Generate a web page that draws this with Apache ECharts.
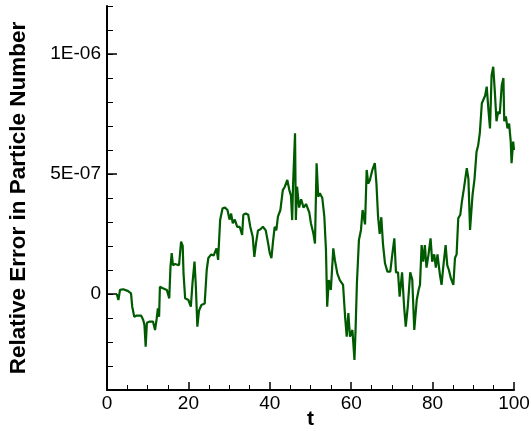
<!DOCTYPE html>
<html>
<head>
<meta charset="utf-8">
<script src="https://cdn.jsdelivr.net/npm/echarts@6/dist/echarts.min.js"></script>
<style>
html,body{margin:0;padding:0;background:#fff;}
#c{width:531px;height:431px;}
</style>
</head>
<body>
<div id="c"></div>
<script>
// time values (t)
var tValues = [
  2.4, 2.8, 3.2, 4.0, 5.2, 5.9, 6.2, 6.7, 7.3, 8.4,
  8.9, 9.2, 9.5, 9.8, 10.5, 11.3, 11.8, 12.2, 12.5, 12.8,
  13.0, 13.6, 14.7, 15.1, 15.3, 15.6, 15.9, 16.2, 16.7, 17.7,
  18.2, 18.6, 18.8, 19.2, 20.0, 20.6, 21.0, 21.5, 21.8, 22.2,
  22.6, 23.2, 24.0, 24.5, 24.9, 25.6, 26.2, 26.9, 27.3, 27.8,
  28.4, 29.0, 29.6, 30.1, 30.5, 30.9, 31.4, 32.0, 32.6, 33.2,
  33.5, 34.1, 34.7, 35.2, 35.8, 36.2, 36.6, 37.1, 37.7, 38.3,
  39.0, 39.5, 40.0, 40.4, 40.8, 41.2, 41.6, 42.0, 42.6, 43.2,
  43.7, 44.3, 44.8, 45.2, 45.5, 45.7, 46.2, 46.4, 46.7, 47.2,
  47.7, 48.3, 48.9, 49.3, 49.7, 50.1, 50.7, 51.1, 51.5, 51.9,
  52.3, 52.9, 53.4, 53.8, 54.1, 54.5, 55.0, 55.6, 56.0, 56.6,
  57.2, 58.0, 58.5, 58.9, 59.3, 59.7, 60.3, 60.8, 61.1, 61.4,
  61.9, 62.4, 62.8, 63.4, 63.8, 64.2, 64.6, 65.2, 65.8, 66.2,
  66.6, 67.0, 67.4, 67.8, 68.3, 68.9, 69.6, 70.1, 70.6, 71.0,
  71.5, 71.9, 72.5, 73.0, 73.4, 73.9, 74.5, 75.0, 75.5, 76.1,
  76.6, 76.9, 77.3, 77.7, 78.1, 78.5, 79.0, 79.5, 79.9, 80.4,
  80.8, 81.2, 81.8, 82.2, 82.6, 83.2, 83.6, 84.0, 84.5, 85.1,
  85.5, 85.9, 86.3, 86.8, 87.2, 87.7, 88.4, 88.8, 89.2, 89.8,
  90.3, 90.8, 91.2, 91.6, 92.1, 92.5, 92.9, 93.3, 93.7, 94.1,
  94.5, 94.9, 95.3, 95.7, 96.1, 96.5, 97.0, 97.4, 97.6, 98.0,
  98.4, 98.8, 99.2, 99.4, 99.8, 100.0
];
// relative error in particle number, in units of 1E-07
var errE7 = [
  0, -0.25, 0.17, 0.2, 0.12, 0.03, -0.53, -0.95, -0.9, -0.9,
  -1.08, -1.29, -2.2, -1.2, -1.15, -1.15, -1.5, -1.04, -0.6, -0.95,
  0.3, 0.25, 0.17, 0.2, -0.18, 1.14, 1.7, 1.2, 1.25, 1.2,
  2.18, 2.0, 0.86, -0.18, -0.25, -0.53, 0.44, 1.35, 0.44, -1.36,
  -0.7, -0.46, -0.4, 1.0, 1.5, 1.65, 1.6, 1.9, 1.42, 3.08,
  3.57, 3.6, 3.5, 3.1, 3.35, 2.95, 3.1, 2.8, 2.8, 2.46,
  3.3, 3.35, 3.3, 2.8, 2.39, 1.55, 2.1, 2.65, 2.7, 2.8,
  2.65, 2.2, 1.7, 1.49, 2.2, 2.8, 2.65, 3.22, 3.5, 4.33,
  4.47, 4.75, 4.33, 4.1, 3.08, 4.47, 6.7, 3.08, 4.47, 3.6,
  3.95, 3.6, 3.75, 3.8, 3.4, 2.95, 2.53, 2.1, 5.45, 4.05,
  4.2, 4.0, 3.22, 1.83, -0.53, 0.58, 0.17, 1.9, 1.4, 0.85,
  0.58, 0.38, -0.95, -1.78, -0.8, -1.78, -1.5, -2.75, -1.35, 0.44,
  2.25, 2.67, 3.5, 2.9, 5.17, 4.6, 4.75, 5.17, 5.45, 4.6,
  3.22, 2.5, 3.2, 2.1, 1.28, 0.93, 0.93, 1.65, 2.32, 0.9,
  0.9, -0.11, 0.9, -0.53, -1.36, -0.53, 0.9, 0.6, -1.5, -0.25,
  0.2, 0.38, 2.04, 1.35, 2.04, 1.1, 1.65, 2.32, 1.35, 1.65,
  1.1, 1.65, 0.8, 0.38, 1.1, 2.04, 1.2, 1.0, 0.65, 0.38,
  1.5, 1.65, 3.15, 3.3, 3.85, 4.4, 5.24, 4.8, 2.67, 4.1,
  4.8, 5.93, 6.2, 6.7, 7.95, 7.9, 8.26, 8.64, 7.7, 6.9,
  9.12, 9.47, 8.4, 7.2, 7.6, 7.5, 8.7, 9.0, 7.2, 7.4,
  6.9, 7.1, 6.35, 5.45, 6.35, 6.0
];
// y tick positions (units of 1E-07) and their labels
var yTickValues = [0, 5, 10];
var yTickLabels = ['0', '5E-07', '1E-06'];
var xTitle = 't';
var yTitle = 'Relative Error in Particle Number';

var data = tValues.map(function (t, i) { return [t, errE7[i]]; });
var font = 'Liberation Sans, Arial, sans-serif';

var chart = echarts.init(document.getElementById('c'), null, {renderer: 'canvas'});
chart.setOption({
  animation: false,
  backgroundColor: '#ffffff',
  grid: {left: 107, right: 17, top: 6, bottom: 41, containLabel: false, outerBoundsMode: 'none'},
  xAxis: {
    type: 'value', min: 0, max: 100, interval: 20,
    name: xTitle, nameLocation: 'middle', nameGap: 19, nameMoveOverlap: false,
    nameTextStyle: {fontFamily: font, fontSize: 21, fontWeight: 'bold', color: '#000'},
    axisLine: {show: true, onZero: false, lineStyle: {color: '#000', width: 2}},
    axisTick: {show: true, inside: true, length: 8, lineStyle: {color: '#000', width: 1.5}},
    minorTick: {show: true, splitNumber: 4, length: 5, lineStyle: {color: '#000', width: 1}},
    axisLabel: {fontFamily: font, fontSize: 19, color: '#000', margin: 4},
    splitLine: {show: false}
  },
  yAxis: [{
    type: 'value', min: -4, max: 12,
    name: yTitle, nameLocation: 'middle', nameGap: 77, nameRotate: 90, nameMoveOverlap: false,
    nameTextStyle: {fontFamily: font, fontSize: 22.5, fontWeight: 'bold', color: '#000'},
    axisLine: {show: true, onZero: false, lineStyle: {color: '#000', width: 2}},
    axisTick: {show: true, inside: true, length: 10, customValues: yTickValues, lineStyle: {color: '#000', width: 1.5}},
    axisLabel: {
      fontFamily: font, fontSize: 19, color: '#000', margin: 6,
      customValues: yTickValues,
      formatter: function (v) {
        var i = yTickValues.indexOf(Math.round(v));
        return i >= 0 ? yTickLabels[i] : '';
      }
    },
    splitLine: {show: false}
  }, {
    type: 'value', min: -4, max: 12, interval: 1, position: 'left',
    axisLine: {show: false},
    axisTick: {show: true, inside: true, length: 6, lineStyle: {color: '#000', width: 1}},
    axisLabel: {show: false},
    splitLine: {show: false}
  }],
  series: [{
    type: 'line', data: data, showSymbol: false, symbol: 'none',
    lineStyle: {color: '#005a00', width: 2.2}, clip: true
  }]
});
</script>
</body>
</html>
